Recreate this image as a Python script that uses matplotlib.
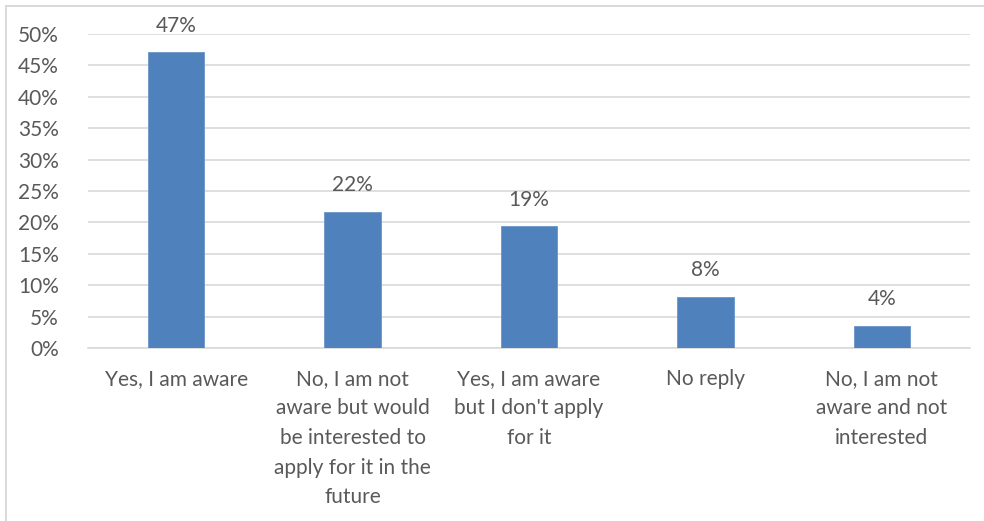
import matplotlib.pyplot as plt
from matplotlib.lines import Line2D
from matplotlib.ticker import FuncFormatter

categories = [
    "Yes, I am aware",
    "No, I am not\naware but would\nbe interested to\napply for it in the\nfuture",
    "Yes, I am aware\nbut I don't apply\nfor it",
    "No reply",
    "No, I am not\naware and not\ninterested",
]
shares = [0.471, 0.217, 0.194, 0.081, 0.035]
yticks = [0, 0.05, 0.10, 0.15, 0.20, 0.25, 0.30, 0.35, 0.40, 0.45, 0.50]

plt.rcParams["font.family"] = ["Lato", "DejaVu Sans"]
text_col = "#595959"
grid_col = "#d9d9d9"
bar_col = "#4f81bd"
fs = 15

fig = plt.figure(figsize=(9.84, 5.21), dpi=100)
# chart frame: only the top and left edges fall inside the picture
fig.add_artist(Line2D([0.0065, 1.0], [0.989, 0.989], transform=fig.transFigure,
                      color=grid_col, linewidth=1.4))
fig.add_artist(Line2D([0.0065, 0.0065], [0.0, 0.989], transform=fig.transFigure,
                      color=grid_col, linewidth=1.4))
ax = fig.add_axes([0.0894, 0.332, 0.8964, 0.6027])

x = range(len(categories))
bars = ax.bar(x, shares, width=0.32, color=bar_col, edgecolor="#6a95c9",
              linewidth=0.6, zorder=3)
for b, v in zip(bars, shares):
    ax.annotate(f"{round(v * 100):.0f}%", (b.get_x() + b.get_width() / 2, v),
                xytext=(0, 12), textcoords="offset points", ha="center",
                va="bottom", fontsize=fs, color=text_col)

ax.set_xlim(-0.5, len(categories) - 0.5)
ax.set_ylim(0, 0.5)
ax.set_yticks(yticks)
ax.yaxis.set_major_formatter(FuncFormatter(lambda v, _: f"{v * 100:.0f}%"))
ax.set_xticks(list(x))
ax.set_xticklabels(categories, linespacing=1.6)
ax.tick_params(axis="both", length=0, labelsize=fs, labelcolor=text_col)
ax.tick_params(axis="x", pad=15)
ax.tick_params(axis="y", pad=21)
ax.grid(axis="y", color=grid_col, linewidth=1.2, zorder=0)
ax.set_axisbelow(True)
for s in ["top", "right", "left"]:
    ax.spines[s].set_visible(False)
ax.spines["bottom"].set_color(grid_col)
ax.spines["bottom"].set_linewidth(1.2)

fig.savefig("out.png", dpi=100)
